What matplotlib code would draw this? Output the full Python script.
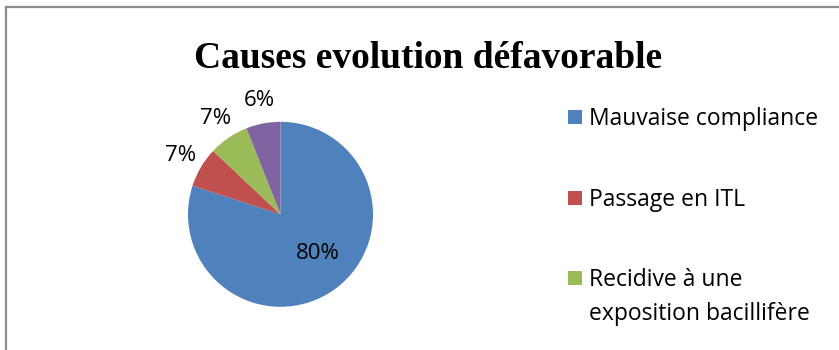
import matplotlib
matplotlib.use("Agg")
import matplotlib.pyplot as plt
from matplotlib.patches import Rectangle
from matplotlib.lines import Line2D

title = "Causes evolution défavorable"
categories = ["Mauvaise compliance", "Passage en ITL",
              "Recidive à une\nexposition bacillifère", "Autre"]
values = [80, 7, 7, 6]
colors = ["#4F81BD", "#C0504D", "#9BBB59", "#8064A2"]
legend_shown = 3

W, H = 839, 350
fig = plt.figure(figsize=(W / 100, H / 100), dpi=100)

# border (top and left visible)
fig.add_artist(Line2D([6 / W, 6 / W], [0, 1 - 7 / H], color="#8c8c8c", lw=1.6,
                      transform=fig.transFigure))
fig.add_artist(Line2D([6 / W, 1], [1 - 7 / H, 1 - 7 / H], color="#8c8c8c", lw=1.6,
                      transform=fig.transFigure))

fig.text(428 / W, 1 - 68 / H, title, ha="center", va="baseline",
         fontsize=27, fontweight="bold", family="Liberation Serif")

cx, cy, r = 280.5, 214.3, 92.5
ax = fig.add_axes([(cx - r) / W, (H - cy - r) / H, 2 * r / W, 2 * r / H])
wedges, texts = ax.pie(values, colors=colors, startangle=90, counterclock=False,
                       labels=[f"{v}%" for v in values], labeldistance=1.25,
                       wedgeprops=dict(linewidth=0),
                       textprops=dict(fontsize=16, family="Open Sans", color="black",
                                      ha="center", va="center"))
for t in texts:
    t.set_ha("center")
    t.set_va("center")
texts[0].set_position((0.40, -0.42))
ax.set_xlim(-1, 1)
ax.set_ylim(-1, 1)
ax.set_aspect("auto")

ys = [117.5, 198, 278]
line_gap = 34
for i in range(legend_shown):
    fig.add_artist(Rectangle((568 / W, 1 - (ys[i] + 7) / H), 14 / W, 14 / H,
                             facecolor=colors[i], edgecolor="none",
                             transform=fig.transFigure))
    for j, line in enumerate(categories[i].split("\n")):
        fig.text(589 / W, 1 - (ys[i] + 7.5 + j * line_gap) / H, line,
                 ha="left", va="baseline", fontsize=16.5, family="Open Sans",
                 transform=fig.transFigure)

fig.savefig("out.png", dpi=100)
